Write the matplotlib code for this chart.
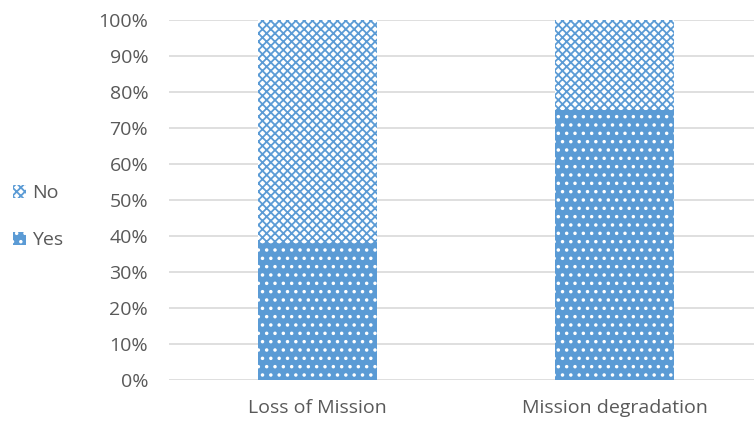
import matplotlib.pyplot as plt
import matplotlib as mpl
from matplotlib.patches import Patch
from matplotlib.ticker import PercentFormatter

plt.rcParams['font.family'] = ['Open Sans', 'DejaVu Sans']
mpl.rcParams['hatch.linewidth'] = 1.3

categories = ['Loss of Mission', 'Mission degradation']
yes_share = [38, 75]
no_share = [62, 25]

blue = '#5B9BD5'
txt = '#595959'

fig = plt.figure(figsize=(7.54, 4.23), dpi=100)
ax = fig.add_axes([169 / 754, 43 / 423, 585 / 754, 360 / 423])

x = range(len(categories))
# Yes: solid blue with small white dots
ax.bar(x, yes_share, width=0.4, color=blue, edgecolor='white', hatch='..', linewidth=0, zorder=3)
# No: blue checker on white
ax.bar(x, no_share, width=0.4, bottom=yes_share, color='white', edgecolor=blue,
       hatch='xxxx', linewidth=0, zorder=3)

ax.set_xlim(-0.5, 585 / 297 - 0.5)
ax.set_ylim(0, 100)
ax.set_yticks(range(0, 101, 10))
ax.yaxis.set_major_formatter(PercentFormatter(decimals=0))
ax.set_xticks(list(x))
ax.set_xticklabels(categories)
ax.grid(axis='y', color='#d9d9d9', linewidth=1.2, zorder=0)
for s in ax.spines.values():
    s.set_visible(False)
ax.tick_params(length=0, labelsize=14, colors=txt)
ax.tick_params(axis='x', pad=14)
ax.tick_params(axis='y', pad=15)

handles = [Patch(facecolor='white', edgecolor=blue, hatch='xxxx', linewidth=0, label='No'),
           Patch(facecolor=blue, edgecolor='white', hatch='..', linewidth=0, label='Yes')]
fig.legend(handles=handles, loc='center left', bbox_to_anchor=(13 / 754, 0.488), frameon=False,
           fontsize=14, labelcolor=txt, handlelength=0.65, handleheight=0.65,
           handletextpad=0.35, labelspacing=1.5, borderpad=0, borderaxespad=0)

fig.savefig('out.png', dpi=100)
